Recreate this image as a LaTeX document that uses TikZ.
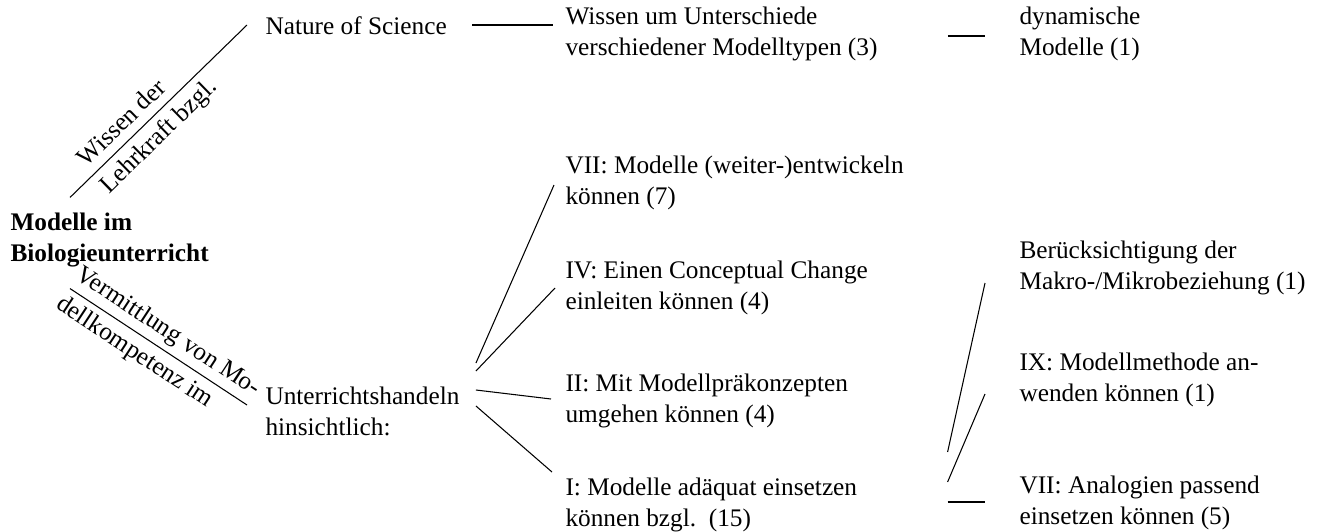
\documentclass[tikz,border=0pt]{standalone}
\usepackage{fontspec}
\setmainfont{Liberation Serif}
\usetikzlibrary{calc}

\begin{document}
\begin{tikzpicture}[x=0.02cm, y=-0.02cm, line width=0.6pt,
    every node/.style={font=\fontsize{14.4pt}{17.6pt}\selectfont},
    txt/.style={anchor=west, align=left, inner sep=0pt},
    lbl/.style={sloped, inner sep=0pt}]
    \useasboundingbox (0,0) rectangle (1324,531);

    % Root
    \node (root) [txt, font=\bfseries\fontsize{14.4pt}{17.6pt}\selectfont] at (10,240) {Modelle im\\Biologieunterricht};

    % Wissen der Lehrkraft Nodes
    \node (nature) [txt] at (265,26) {Nature of Science};
    \node (wissen) [txt] at (565,34) {Wissen um Unterschiede\\verschiedener Modelltypen (3)};
    \node (dynamisch) [txt] at (1019,34) {dynamische\\Modelle (1)};

    % Unterrichtshandeln Nodes
    \node (unt) [txt] at (265,411) {Unterrichtshandeln\\hinsichtlich:};
    \node (entwickeln) [txt] at (565,183) {VII: Modelle (weiter-)entwickeln\\können (7)};
    \node (change) [txt] at (565,288) {IV: Einen Conceptual Change\\einleiten können (4)};
    \node (praekonz) [txt] at (565,401) {II: Mit Modellpräkonzepten\\umgehen können (4)};
    \node (einsetzen) [txt] at (565,505) {I: Modelle adäquat einsetzen\\können bzgl.\ \ (15)};

    % Modelle adaequat einsetzen Nodes
    \node (makro) [txt] at (1019,268) {Berücksichtigung der\\Makro-/Mikrobeziehung (1)};
    \node (methode) [txt] at (1019,380) {IX: Modellmethode an-\\wenden können (1)};
    \node (analog) [txt] at (1019,503) {VII: Analogien passend\\einsetzen können (5)};

    % Lines
    \draw ($(root.north west)+(60,-15)$) --
        node[lbl, pos=0.36, above=5pt] {Wissen der}
        node[lbl, pos=0.43, below=4pt] {Lehrkraft bzgl.}
        ($(nature.west)+(-18,-1)$);
    \draw ($(root.south west)+(60,21)$) --
        node[lbl, pos=0.5, above=3pt] {Vermittlung von Mo-}
        node[lbl, pos=0.42, below=3.5pt] {dellkompetenz im}
        ($(unt.west)+(-18,-6)$);

    \draw ($(nature.east)+(25,-1)$) -- ($(wissen.west)+(-12,-9)$);
    \draw ($(wissen.east)+(70,2)$) -- ($(dynamisch.west)+(-34,2)$);

    \draw ($(unt.east)+(16,-48)$) -- ($(entwickeln.west)+(-11,2)$);
    \draw ($(unt.east)+(16,-40)$) -- ($(change.west)+(-10,0)$);
    \draw ($(unt.east)+(16,-21)$) -- ($(praekonz.west)+(-14,-2)$);
    \draw ($(unt.east)+(16,-5)$) -- ($(einsetzen.west)+(-13,-33)$);

    \draw ($(einsetzen.east)+(90,-53)$) -- ($(makro.west)+(-34,15)$);
    \draw ($(einsetzen.east)+(90,-23)$) -- ($(methode.west)+(-34,14)$);
    \draw ($(einsetzen.east)+(90,-3)$) -- ($(analog.west)+(-34,-1)$);
\end{tikzpicture}
\end{document}
